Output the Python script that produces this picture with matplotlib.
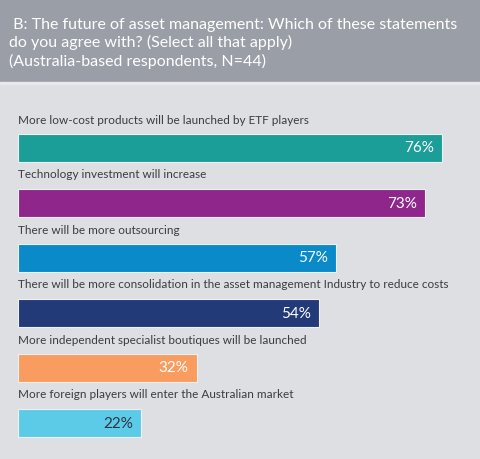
import matplotlib
matplotlib.use("Agg")
import matplotlib.pyplot as plt
from matplotlib.patches import Rectangle

title = " B: The future of asset management: Which of these statements\ndo you agree with? (Select all that apply)\n(Australia-based respondents, N=44)"
categories = [
    "More low-cost products will be launched by ETF players",
    "Technology investment will increase",
    "There will be more outsourcing",
    "There will be more consolidation in the asset management Industry to reduce costs",
    "More independent specialist boutiques will be launched",
    "More foreign players will enter the Australian market",
]
values = [76, 73, 57, 54, 32, 22]
value_labels = ["76%", "73%", "57%", "54%", "32%", "22%"]
colors = ["#1b9e98", "#8f268c", "#0a8ac9", "#233a78", "#f99c5f", "#5ccbe7"]
label_colors = ["white", "white", "white", "white", "white", "#2b3445"]

W, H = 480, 459
fig = plt.figure(figsize=(W / 100, H / 100), dpi=100)
fig.patch.set_facecolor("#dedfe3")

# header band in pixel coords
hax = fig.add_axes([0, 0, 1, 1])
hax.set_xlim(0, W)
hax.set_ylim(H, 0)
hax.axis("off")
hax.add_patch(Rectangle((0, 0), W, 82, color="#9a9ea6", zorder=0))
hax.add_patch(Rectangle((0, 82), W, 2, color="#e8e9ec", zorder=0))
hax.text(9, 18, title, color="white", fontsize=11.5, family="Lato",
         va="top", ha="left", linespacing=1.27)

# chart axes: x in percent units, y in pixel units
px_per_pct = 5.58
left_px = 18
ax = fig.add_axes([0, 0, 1, 1], facecolor="none")
ax.set_xlim(-left_px / px_per_pct, (W - left_px) / px_per_pct)
ax.set_ylim(H, 0)
ax.axis("off")

bar_top0 = 134
pitch = 55
bar_h = 28
for i, (cat, v, vl, c, lc) in enumerate(zip(categories, values, value_labels, colors, label_colors)):
    top = bar_top0 + i * pitch
    ax.barh(top + bar_h / 2, v, height=bar_h, left=0, color=c,
            edgecolor="#eef0f2", linewidth=0.8, zorder=2)
    ax.text(0, top - 14, cat, fontsize=8.5, family="Lato", color="#3a3c40",
            va="center", ha="left")
    ax.text(v - 8 / px_per_pct, top + bar_h / 2 + 0.5, vl, fontsize=11,
            family="Lato", color=lc, va="center", ha="right", zorder=5)

fig.savefig("out.png", dpi=100, facecolor=fig.get_facecolor())
